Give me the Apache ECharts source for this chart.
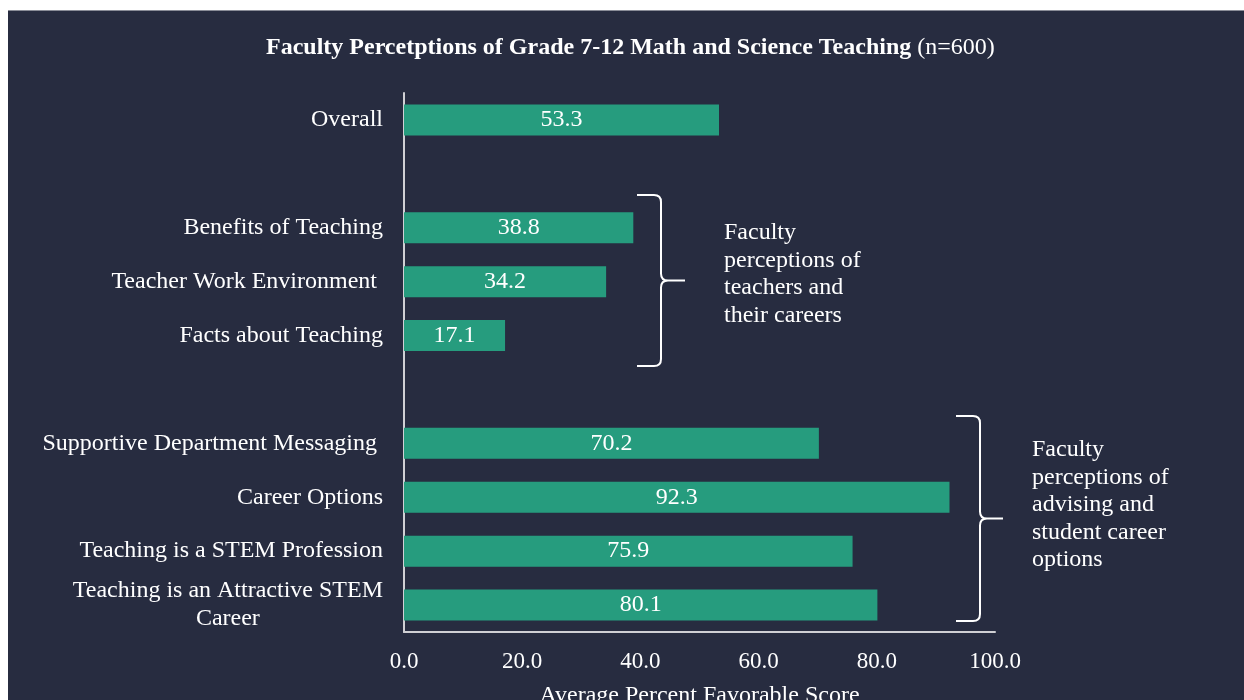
<!DOCTYPE html>
<html>
<head>
<meta charset="utf-8">
<script src="https://cdn.jsdelivr.net/npm/echarts@6/dist/echarts.min.js"></script>
<style>
  html, body { margin: 0; padding: 0; background: #ffffff; }
  #chart { position: absolute; left: 8px; top: 10px; width: 1236px; height: 690px;
           background: #272c40; border-top: 1px solid #8a8d98; box-sizing: border-box; }
</style>
</head>
<body>
<div id="chart"></div>
<script>
// 类目（从上到下），空行用于分组间隔
var categories = [
    'Overall',
    ' ',
    'Benefits of Teaching',
    'Teacher Work Environment ',
    'Facts about Teaching',
    '  ',
    'Supportive Department Messaging ',
    'Career Options',
    'Teaching is a STEM Profession',
    'Teaching is an Attractive STEM\nCareer'
];
var scores = [53.3, null, 38.8, 34.2, 17.1, null, 70.2, 92.3, 75.9, 80.1];
var xTicks = [0, 20, 40, 60, 80, 100];

var groupNotes = [
    'Faculty\nperceptions of\nteachers and\ntheir careers',
    'Faculty\nperceptions of\nadvising and\nstudent career\noptions'
];

var serif = '"Liberation Serif", "Times New Roman", serif';
var textColor = '#ffffff';
var axisColor = '#d0d0d4';

// 大括号路径
function bracePath(x0, xv, xt, y0, y1) {
    var ym = (y0 + y1) / 2, r = 7;
    return 'M' + x0 + ',' + y0 + ' L' + (xv - r) + ',' + y0 +
        ' Q' + xv + ',' + y0 + ' ' + xv + ',' + (y0 + r) +
        ' L' + xv + ',' + (ym - r) +
        ' Q' + xv + ',' + ym + ' ' + (xv + r) + ',' + ym +
        ' L' + xt + ',' + ym +
        ' M' + (xv + r) + ',' + ym +
        ' Q' + xv + ',' + ym + ' ' + xv + ',' + (ym + r) +
        ' L' + xv + ',' + (y1 - r) +
        ' Q' + xv + ',' + y1 + ' ' + (xv - r) + ',' + y1 +
        ' L' + x0 + ',' + y1;
}
echarts.graphic.registerShape('brace1', echarts.graphic.extendPath(bracePath(629, 653, 677, 184, 355)));
echarts.graphic.registerShape('brace2', echarts.graphic.extendPath(bracePath(948, 972, 995, 405, 610)));

var chart = echarts.init(document.getElementById('chart'));

var option = {
    backgroundColor: 'transparent',
    title: {
        text: '{b|Faculty Percetptions of Grade 7-12 Math and Science Teaching}{n| (n=600)}',
        left: 253,
        top: 20,
        textStyle: {
            rich: {
                b: { fontFamily: serif, fontSize: 24, fontWeight: 'bold', color: textColor },
                n: { fontFamily: serif, fontSize: 24, fontWeight: 'normal', color: textColor }
            }
        }
    },
    grid: {
        left: 396,
        right: 249,
        top: 82,
        bottom: 68,
        outerBoundsMode: 'none',
        containLabel: false
    },
    xAxis: {
        type: 'value',
        min: 0,
        max: 100,
        interval: 20,
        name: 'Average Percent Favorable Score',
        nameLocation: 'middle',
        nameGap: 52,
        nameTextStyle: { fontFamily: serif, fontSize: 24, color: textColor },
        axisLine: { show: true, lineStyle: { color: axisColor, width: 2 } },
        axisTick: { show: false },
        splitLine: { show: false },
        axisLabel: {
            margin: 18,
            fontFamily: serif,
            fontSize: 23,
            color: textColor,
            formatter: function (v) { return v.toFixed(1); }
        }
    },
    yAxis: {
        type: 'category',
        data: categories,
        inverse: true,
        axisLine: { show: true, lineStyle: { color: axisColor, width: 2 } },
        axisTick: { show: false },
        axisLabel: {
            margin: 21,
            fontFamily: serif,
            fontSize: 24,
            color: textColor,
            lineHeight: 28,
            formatter: function (v) {
                if (v.indexOf('\n') < 0) return v;
                return v.split('\n').map(function (s) { return '{c|' + s + '}'; }).join('\n');
            },
            rich: {
                c: { align: 'center', fontFamily: serif, fontSize: 24, color: textColor, lineHeight: 28 }
            }
        }
    },
    series: [
        {
            type: 'bar',
            data: scores,
            barWidth: 31,
            itemStyle: { color: '#269c7e' },
            label: {
                show: true,
                position: 'inside',
                fontFamily: serif,
                fontSize: 24,
                color: textColor,
                formatter: function (p) { return p.value == null ? '' : p.value.toFixed(1); }
            },
            silent: true
        }
    ],
    graphic: [
        {
            type: 'brace1',
            style: { fill: null, stroke: '#ffffff', lineWidth: 2 }
        },
        {
            type: 'brace2',
            style: { fill: null, stroke: '#ffffff', lineWidth: 2 }
        },
        {
            type: 'text',
            left: 716,
            top: 208,
            style: {
                text: groupNotes[0],
                font: '24px ' + serif,
                fill: textColor,
                lineHeight: 27.5
            }
        },
        {
            type: 'text',
            left: 1024,
            top: 425,
            style: {
                text: groupNotes[1],
                font: '24px ' + serif,
                fill: textColor,
                lineHeight: 27.5
            }
        }
    ]
};

chart.setOption(option);
</script>
</body>
</html>
